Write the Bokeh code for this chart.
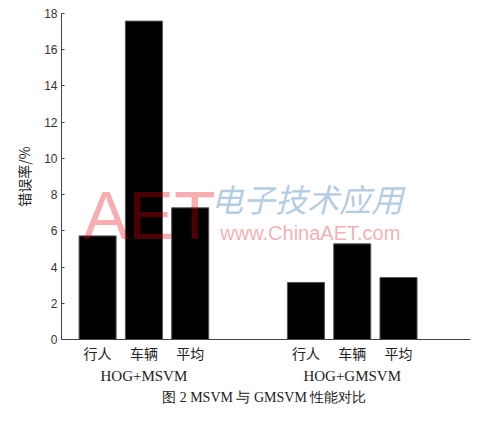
from bokeh.plotting import figure
from bokeh.models import Range1d, FixedTicker, LinearAxis, Title, Label, ColumnDataSource
from bokeh.embed import file_html
from bokeh.resources import INLINE

groups = ["HOG+MSVM", "HOG+GMSVM"]
categories = ["行人", "车辆", "平均"]
msvm = [5.72, 17.58, 7.27]
gmsvm = [3.15, 5.28, 3.42]
y_ticks = [0, 2, 4, 6, 8, 10, 12, 14, 16, 18]

group_step = 4.5
xs, tops, cat_labels = [], [], {}
group_centers = {}
for g, vals in enumerate([msvm, gmsvm]):
    for i, (c, v) in enumerate(zip(categories, vals)):
        x = g * group_step + i
        xs.append(x)
        tops.append(v)
        cat_labels[x] = c
    group_centers[g * group_step + (len(categories) - 1) / 2] = groups[g]

src = ColumnDataSource(dict(x=xs, top=tops))

p = figure(width=471, height=405, output_backend="svg", toolbar_location=None,
           x_range=Range1d(-0.78, 8.055), y_range=Range1d(0, 18),
           min_border_left=61, min_border_right=1, min_border_top=13, min_border_bottom=64)
p.outline_line_color = None
p.grid.visible = False
p.background_fill_color = "white"

p.vbar(x="x", top="top", width=0.8, bottom=0, source=src,
       fill_color="black", line_color="#555555", line_width=1)

# y axis
ya = p.yaxis[0]
ya.ticker = FixedTicker(ticks=y_ticks)
ya.major_tick_in = 3
ya.major_tick_out = 0
ya.minor_tick_line_color = None
ya.axis_line_color = "#444444"
ya.major_tick_line_color = "#444444"
ya.major_label_text_font = "Liberation Sans"
ya.major_label_text_font_size = "12px"
ya.major_label_text_color = "#333333"
ya.major_label_standoff = 4
ya.axis_label = "错误率/%"
ya.axis_label_text_font = "Noto Sans CJK SC"
ya.axis_label_text_font_style = "normal"
ya.axis_label_text_font_size = "14px"
ya.axis_label_text_color = "#222222"
ya.axis_label_standoff = 7

# x axis (categories)
xa = p.xaxis[0]
xa.ticker = FixedTicker(ticks=xs)
xa.major_label_overrides = cat_labels
xa.major_tick_line_color = None
xa.major_tick_out = 0
xa.major_tick_in = 0
xa.minor_tick_line_color = None
xa.axis_line_color = "#444444"
xa.major_label_text_font = "Noto Sans CJK SC"
xa.major_label_text_font_size = "14px"
xa.major_label_text_color = "#222222"
xa.major_label_standoff = 3

# group axis
ga = LinearAxis(ticker=FixedTicker(ticks=list(group_centers.keys())),
                major_label_overrides=group_centers)
ga.axis_line_color = None
ga.major_tick_line_color = None
ga.major_tick_out = 0
ga.major_tick_in = 0
ga.minor_tick_line_color = None
ga.major_label_text_font = "Liberation Serif"
ga.major_label_text_font_size = "15px"
ga.major_label_text_color = "#222222"
ga.major_label_standoff = 2
p.add_layout(ga, "below")

cap = Title(text="图 2  MSVM 与 GMSVM 性能对比", align="center",
            text_font="Liberation Serif", text_font_size="14px",
            text_font_style="normal", text_color="#222222", standoff=2)
p.add_layout(cap, "below")

# watermark
p.add_layout(Label(x=-0.31, y=4.8, text="AET", text_font="Liberation Sans",
                   text_font_size="68px", text_color="#e8000b", text_alpha=0.32))
p.add_layout(Label(x=2.45, y=6.55, text="电子技术应用", text_font="Noto Sans CJK SC",
                   text_font_size="32px", text_font_style="italic",
                   text_color="#9fc0dc", text_alpha=0.8))
p.add_layout(Label(x=2.65, y=5.28, text="www.ChinaAET.com", text_font="Liberation Sans",
                   text_font_size="20px", text_color="#f07880", text_alpha=0.6))

open("out.html", "w").write(file_html(p, INLINE))
